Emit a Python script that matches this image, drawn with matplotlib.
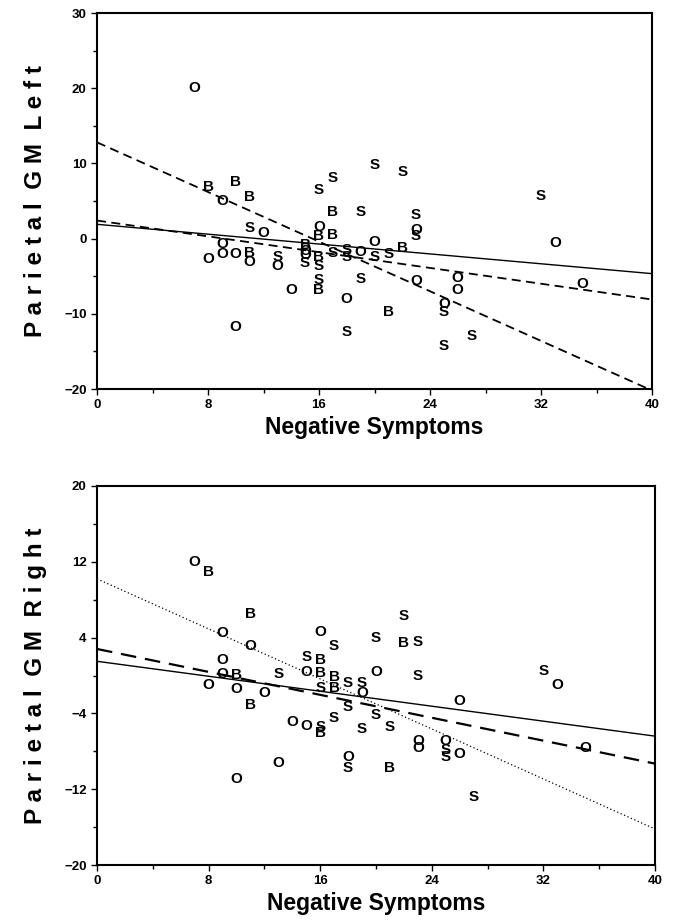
import matplotlib
matplotlib.use('Agg')
import matplotlib.pyplot as plt
import numpy as np

plt.rcParams['font.family'] = ['Liberation Sans', 'DejaVu Sans']
plt.rcParams['font.weight'] = 'bold'

# ---- top panel: Parietal GM Left ----
left_o_x = [7, 9, 12, 16, 9, 20, 15, 15, 8, 9, 10, 11, 13, 14, 10, 18, 19, 23, 33, 23, 26, 26, 25, 35]
left_o_y = [20, 5, 0.8, 1.6, -0.7, -0.4, -1.6, -2.2, -2.7, -2, -2, -3.1, -3.6, -6.8, -11.7, -8, -1.8, 1.2, -0.6, -5.6, -5.3, -6.9, -8.7, -6]
left_b_x = [8, 10, 11, 17, 16, 17, 15, 11, 16, 16, 22, 21]
left_b_y = [6.9, 7.5, 5.5, 3.6, 0.4, 0.5, -0.8, -1.9, -2.4, -6.9, -1.2, -9.8]
left_s_x = [16, 17, 20, 22, 32, 19, 11, 13, 15, 16, 16, 18, 17, 18, 18, 20, 19, 23, 23, 21, 25, 27, 25]
left_s_y = [6.4, 8, 9.8, 8.9, 5.6, 3.6, 1.4, -2.4, -3.3, -3.7, -5.5, -12.4, -1.9, -1.5, -2.4, -2.4, -5.4, 3.2, 0.3, -2.1, -9.8, -12.9, -14.3]
left_fit_a = [1.9, 2.4, 12.8]        # intercepts
left_fit_b = [-0.164, -0.2625, -0.825]  # slopes

# ---- bottom panel: Parietal GM Right ----
right_o_x = [7, 9, 11, 16, 9, 9, 15, 20, 8, 10, 12, 19, 14, 15, 18, 13, 10, 33, 26, 23, 23, 25, 26, 35]
right_o_y = [12, 4.5, 3.1, 4.6, 1.6, 0.2, 0.4, 0.4, -1, -1.4, -1.8, -1.8, -4.9, -5.3, -8.6, -9.2, -10.9, -1, -2.7, -6.9, -7.7, -6.9, -8.3, -7.7]
right_b_x = [8, 11, 16, 22, 10, 16, 11, 17, 17, 16, 21]
right_b_y = [10.9, 6.5, 1.6, 3.4, 0.1, 0.3, -3.1, -0.2, -1.3, -6.1, -9.8]
right_s_x = [17, 15, 20, 22, 23, 13, 16, 18, 19, 18, 20, 17, 16, 19, 18, 23, 32, 21, 25, 25, 27]
right_s_y = [3.1, 2.0, 4, 6.3, 3.5, 0.2, -1.3, -0.8, -0.8, -3.3, -4.2, -4.5, -5.4, -5.6, -9.8, 0, 0.5, -5.4, -7.9, -8.6, -12.8]
right_fit_a = [1.5, 2.8, 10.2]
right_fit_b = [-0.1975, -0.3025, -0.66]


def spaced(s):
    # wide letter spacing like the original
    return '  '.join(' '.join(w) for w in s.split())


def draw_panel(ax, groups, fit_a, fit_b, styles, ylim, yticks, yminor, ylabel):
    for letter, xs, ys in groups:
        for x, y in zip(xs, ys):
            ax.text(x, y, letter, ha='center', va='center', fontsize=11,
                    fontweight='bold', clip_on=True)
    xx = np.array([0, 40])
    for a, b, st in zip(fit_a, fit_b, styles):
        ax.plot(xx, a + b * xx, color='black', **st)
    ax.set_xlim(0, 40)
    ax.set_ylim(*ylim)
    ax.set_xticks(np.arange(0, 41, 8))
    ax.set_xticks(np.arange(4, 41, 8), minor=True)
    ax.set_yticks(yticks)
    ax.set_yticks(yminor, minor=True)
    ax.tick_params(which='both', direction='out', labelsize=9.5, width=1)
    ax.tick_params(which='major', length=4)
    ax.tick_params(which='minor', length=3)
    for sp in ax.spines.values():
        sp.set_linewidth(1.5)
    ax.set_xlabel('Negative Symptoms', fontsize=16.5, fontweight='bold', labelpad=3)
    ax.set_ylabel(spaced(ylabel), fontsize=17.5, fontweight='bold', labelpad=12)


fig = plt.figure(figsize=(6.74, 9.24), dpi=100)
ax1 = fig.add_axes([97 / 674, 1 - 389 / 924, (652 - 97) / 674, (389 - 13) / 924])
ax2 = fig.add_axes([97 / 674, 1 - 865 / 924, (655 - 97) / 674, (865 - 486) / 924])

top_styles = [dict(lw=1.0, ls='-'),
              dict(lw=1.3, ls=(0, (5, 3))),
              dict(lw=1.3, ls=(0, (5, 3)))]
bot_styles = [dict(lw=1.0, ls='-'),
              dict(lw=1.6, ls=(0, (7, 4))),
              dict(lw=0.9, ls=(0, (1, 2)))]

draw_panel(ax1, [('O', left_o_x, left_o_y), ('B', left_b_x, left_b_y), ('S', left_s_x, left_s_y)],
           left_fit_a, left_fit_b, top_styles, (-20, 30),
           np.arange(-20, 31, 10), np.arange(-15, 30, 10), 'Parietal GM Left')
draw_panel(ax2, [('O', right_o_x, right_o_y), ('B', right_b_x, right_b_y), ('S', right_s_x, right_s_y)],
           right_fit_a, right_fit_b, bot_styles, (-20, 20),
           np.arange(-20, 21, 8), np.arange(-16, 20, 8), 'Parietal GM Right')

fig.savefig('out.png', dpi=100)
